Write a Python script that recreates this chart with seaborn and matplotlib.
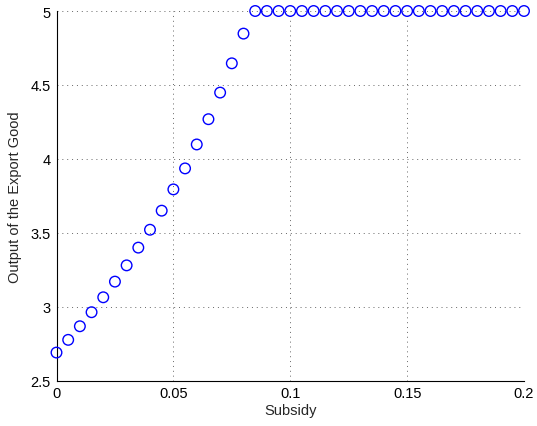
import numpy as np
import pandas as pd
import matplotlib
matplotlib.use("Agg")
import matplotlib.pyplot as plt
import seaborn as sns

subsidy = [0.000, 0.005, 0.010, 0.015, 0.020, 0.025, 0.030, 0.035, 0.040, 0.045,
           0.050, 0.055, 0.060, 0.065, 0.070, 0.075, 0.080, 0.085, 0.090, 0.095,
           0.100, 0.105, 0.110, 0.115, 0.120, 0.125, 0.130, 0.135, 0.140, 0.145,
           0.150, 0.155, 0.160, 0.165, 0.170, 0.175, 0.180, 0.185, 0.190, 0.195, 0.200]
output = [2.689, 2.775, 2.867, 2.962, 3.063, 3.169, 3.279, 3.399, 3.520, 3.649,
          3.793, 3.935, 4.097, 4.268, 4.448, 4.646, 4.847, 5.0, 5.0, 5.0,
          5.0, 5.0, 5.0, 5.0, 5.0, 5.0, 5.0, 5.0, 5.0, 5.0,
          5.0, 5.0, 5.0, 5.0, 5.0, 5.0, 5.0, 5.0, 5.0, 5.0, 5.0]
xticks = [0, 0.05, 0.1, 0.15, 0.2]
xticklabels = ["0", "0.05", "0.1", "0.15", "0.2"]
yticks = [2.5, 3, 3.5, 4, 4.5, 5]
yticklabels = ["2.5", "3", "3.5", "4", "4.5", "5"]

df = pd.DataFrame({"Subsidy": subsidy, "Output": output})

sns.set_style("white")
plt.rcParams['font.family'] = ['Liberation Sans', 'DejaVu Sans']

fig = plt.figure(figsize=(5.37, 4.27), dpi=100)
ax = fig.add_axes([56.5/537, 45.5/427, 467.5/537, 369.5/427])

ax.grid(True, color="#666666", linestyle=(0, (1, 4)), linewidth=0.7)
ax.set_axisbelow(True)

sns.scatterplot(data=df, x="Subsidy", y="Output", ax=ax, marker="o",
                s=58, facecolor="none", edgecolor="#0000ff", linewidth=1.0,
                zorder=3, clip_on=False)

ax.set_xlim(0, 0.2)
ax.set_ylim(2.5, 5)
ax.set_xticks(xticks)
ax.set_xticklabels(xticklabels)
ax.set_yticks(yticks)
ax.set_yticklabels(yticklabels)
ax.tick_params(direction="in", length=4, width=0.8, labelsize=10.5, color="black",
               labelcolor="black", pad=4)
for s in ["top", "right"]:
    ax.spines[s].set_visible(False)
for s in ["left", "bottom"]:
    ax.spines[s].set_color("black")
    ax.spines[s].set_linewidth(0.8)

ax.set_xlabel("Subsidy", fontsize=10.5, labelpad=2)
ax.set_ylabel("Output of the Export Good", fontsize=10.5, labelpad=6)

fig.savefig("out.png", dpi=100)
